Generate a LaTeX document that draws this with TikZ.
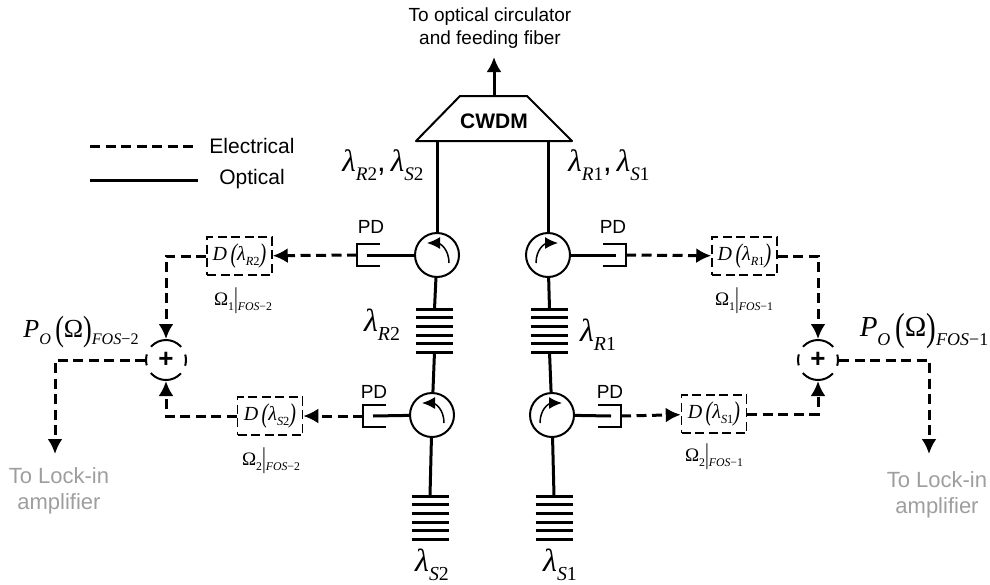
\documentclass[tikz,border=0pt]{standalone}
\usepackage{fontspec}
\setmainfont{Liberation Sans}
\newfontfamily\tms{Liberation Serif}
\usepackage{tikz}
\usetikzlibrary{arrows.meta}
\newcommand{\sub}[1]{\raisebox{-.28em}{\fontsize{.62em}{1em}\selectfont #1}}
\newcommand{\para}[1]{\raisebox{-.12em}{\scalebox{1}[1.35]{(}}#1\raisebox{-.12em}{\scalebox{1}[1.35]{)}}}
\newcommand{\lam}[2]{{\tms\itshape λ\sub{#1{\upshape #2}}}}
\newcommand{\dlam}[2]{{\tms\itshape D\,\para{\lam{#1}{#2}}}}
\newcommand{\omg}[2]{{\tms Ω\sub{#1}\raisebox{-.12em}{\scalebox{1}[1.5]{|}}\sub{\itshape FOS{\upshape −#2}}}}
\newcommand{\pow}[1]{{\tms\itshape P\sub{O}\,{\upshape\para{Ω}}\sub{FOS{\upshape −#1}}}}

\begin{document}
\begin{tikzpicture}[x=1pt,y=-1pt]
		\tikzset{optical/.style={line width=3pt}}
		\tikzset{electrical/.style={line width=3pt, dash pattern=on 10pt off 5.5pt}}
		\tikzset{tip/.style={-{Latex[length=15pt,width=15pt]}}}
		\tikzset{circulator/.style={shape = circle, draw, line width=2pt, minimum size = 44pt, inner sep=0pt}}
		\tikzset{dbox/.style={draw, line width=1.5pt, dash pattern=on 9pt off 4.5pt, minimum width=65pt, minimum height=38pt, inner sep=0pt, font=\fontsize{20}{22}\selectfont}}
		\tikzset{adder/.style={shape = circle, draw, line width=2pt, minimum size = 40pt, inner sep=0pt, dash pattern=on 11pt off 8.8pt on 34pt off 8.8pt on 11pt off 8.8pt on 34pt off 8.8pt, dash phase=5.5pt, font=\fontsize{26}{26}\selectfont\bfseries}}
		\tikzset{sans/.style={font=\fontsize{19}{21}\selectfont, align=center}}
		\tikzset{legend/.style={font=\fontsize{21}{24}\selectfont}}
		\tikzset{gray text/.style={font=\fontsize{22}{26}\selectfont, text=black!38, align=center}}
		\tikzset{wave/.style={font=\fontsize{32}{34}\selectfont}}
		\tikzset{freq/.style={font=\fontsize{19}{21}\selectfont}}
		\path[use as bounding box] (0,0) rectangle (990,584);
		%cwdm
		\node[sans] (fiber) at (490,28) {To optical circulator\\[2pt]and feeding fiber};
		\draw[line width=2pt, line join=round] (416,141) -- (460,96) -- (527,96) -- (572,141) -- cycle;
		\node[font=\fontsize{21}{24}\selectfont\bfseries] (cwdm) at (494,121) {CWDM};
		\coordinate (cwdmtop) at (494,96);
		\coordinate (cwdmout) at (494,57);
		\coordinate (cwdmL) at (437,141);
		\coordinate (cwdmR) at (548,141);
		\draw[optical,tip] (cwdmtop) -- (cwdmout);
		%legend
		\coordinate (legA) at (90,146);
		\coordinate (legB) at (198,146);
		\coordinate (legC) at (90,180);
		\coordinate (legD) at (198,180);
		\draw[electrical] (legA) -- (legB);
		\draw[optical] (legC) -- (legD);
		\node[legend] (elec) at (252,146) {Electrical};
		\node[legend] (opt) at (252,179) {Optical};
		%circulators
		\node[circulator] (cirR2) at (437,255) {};
		\node[circulator] (cirR1) at (548,255) {};
		\node[circulator] (cirS2) at (432,415) {};
		\node[circulator] (cirS1) at (552,415) {};
		\foreach \c/\s in {cirR2/1, cirS2/1, cirR1/-1, cirS1/-1}
			\draw[line width=1.5pt, -{Latex[length=13pt,width=12pt]}] ([shift={(\s*12,8)}]\c.center) .. controls +(0,-13) and +(\s*4,0) .. ([shift={(\s*0,-12)}]\c.center) -- ([shift={(\s*-10,-12)}]\c.center);
		%gratings
		\foreach \g/\x/\y in {gratR2/434.5/309, gratR1/549.5/309, gratS2/430/496, gratS1/554/496} {
			\coordinate (\g) at (\x,\y);
			\coordinate (\g-b) at (\x,\y+43);
			\foreach \i in {0,...,5}
				\draw[optical] (\x-18.5,\y+\i*8.7) -- (\x+18.5,\y+\i*8.7);
		}
		\draw[optical] (cwdmL) -- (cirR2);
		\draw[optical] (cwdmR) -- (cirR1);
		\draw[optical] (cirR2) -- (gratR2);
		\draw[optical] (cirR1) -- (gratR1);
		\draw[optical] (gratR2-b) -- (cirS2);
		\draw[optical] (gratR1-b) -- (cirS1);
		\draw[optical] (cirS2) -- (gratS2);
		\draw[optical] (cirS1) -- (gratS1);
		%photodiodes
		\foreach \p/\x/\y/\s in {pdR2/357/255/1, pdS2/363/416/1, pdR1/626/255/-1, pdS1/621/416/-1} {
			\coordinate (\p) at (\x,\y);
			\coordinate (\p-in) at (\x+\s*10,\y);
			\draw[line width=2pt] (\x+\s*23,\y-11) -- (\x,\y-11) -- (\x,\y+11) -- (\x+\s*23,\y+11);
		}
		\draw[optical] (cirR2) -- (pdR2-in);
		\draw[optical] (cirS2) -- (pdS2-in);
		\draw[optical] (cirR1) -- (pdR1-in);
		\draw[optical] (cirS1) -- (pdS1-in);
		\node[sans] (pdlR2) at (371,227) {PD};
		\node[sans] (pdlS2) at (374,392) {PD};
		\node[sans] (pdlR1) at (613,227) {PD};
		\node[sans] (pdlS1) at (610,392) {PD};
		%detectors
		\node[dbox] (dR2) at (239.5,256) {\dlam{R}{2}};
		\node[dbox] (dS2) at (270,416) {\dlam{S}{2}};
		\node[dbox] (dR1) at (744.5,256) {\dlam{R}{1}};
		\node[dbox] (dS1) at (714,414) {\dlam{S}{1}};
		\node[adder] (sum2) at (166,360) {+};
		\node[adder] (sum1) at (818,360) {+};
		%electrical paths
		\coordinate (outL) at (55,454);
		\coordinate (outR) at (929,454);
		\draw[electrical,tip] (pdR2) -- (dR2);
		\draw[electrical,tip] (pdS2) -- (dS2);
		\draw[electrical,tip] (pdR1) -- (dR1);
		\draw[electrical,tip] (pdS1) -- (dS1);
		\draw[electrical,tip] (dR2) -| (sum2);
		\draw[electrical,tip] (dS2) -| (sum2);
		\draw[electrical,tip] (dR1) -| (sum1);
		\draw[electrical,tip] (dS1) -| (sum1);
		\draw[electrical,tip] (sum2) -| (outL);
		\draw[electrical,tip] (sum1) -| (outR);
		%labels
		\node[wave,font=\fontsize{31}{34}\selectfont] (lamL) at (383,165) {\lam{R}{2},\,\lam{S}{2}};
		\node[wave,font=\fontsize{31}{34}\selectfont] (lamR) at (609,165) {\lam{R}{1},\,\lam{S}{1}};
		\node[wave] (lamR2) at (382,325) {\lam{R}{2}};
		\node[wave] (lamR1) at (598,335) {\lam{R}{1}};
		\node[wave] (lamS2) at (432,565) {\lam{S}{2}};
		\node[wave] (lamS1) at (560,565) {\lam{S}{1}};
		\node[freq] (omR2) at (243,301) {\omg{1}{2}};
		\node[freq] (omS2) at (271,461) {\omg{2}{2}};
		\node[freq] (omR1) at (744,301) {\omg{1}{1}};
		\node[freq] (omS1) at (714,457) {\omg{2}{1}};
		\node[font=\fontsize{26}{28}\selectfont] (powL) at (81,332) {\pow{2}};
		\node[font=\fontsize{29}{30}\selectfont] (powR) at (924,331) {\pow{1}};
		\node[gray text] (lockL) at (59,491) {To Lock-in\\amplifier};
		\node[gray text] (lockR) at (937,495) {To Lock-in\\amplifier};
\end{tikzpicture}
\end{document}
